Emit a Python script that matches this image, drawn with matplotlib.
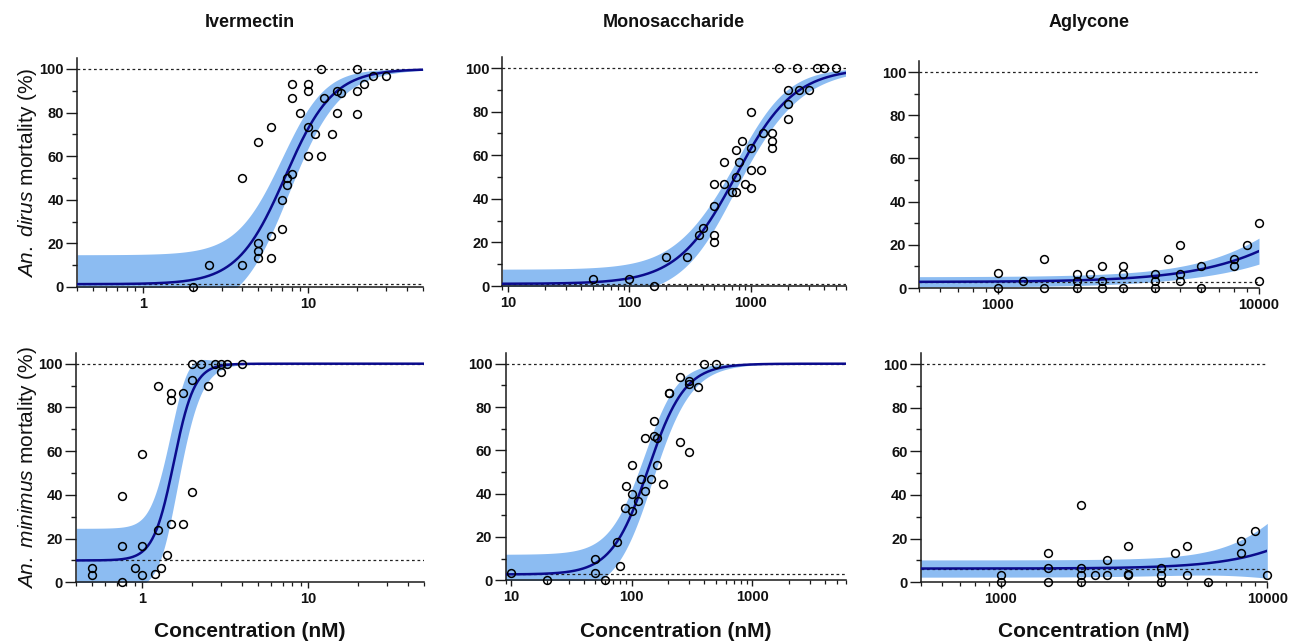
import numpy as np
import matplotlib
matplotlib.use("Agg")
import matplotlib.pyplot as plt
from matplotlib.ticker import FixedLocator, FixedFormatter, LogLocator, NullFormatter

plt.rcParams['font.family'] = ['Liberation Sans', 'DejaVu Sans']
plt.rcParams['mathtext.fontset'] = 'custom'
plt.rcParams['mathtext.it'] = 'Liberation Sans:italic'
plt.rcParams['mathtext.rm'] = 'Liberation Sans'

# ---------------- data (concentration nM, mortality %) ----------------
compounds = ['Ivermectin', 'Monosaccharide', 'Aglycone']
species = ['dirus', 'minimus']

iver_dirus_conc = [2, 2.5, 4, 4, 5, 5, 5, 5, 6, 6, 6, 7, 7, 7.5, 7.5, 8, 8, 8, 9,
                   10, 10, 10, 10, 11, 12, 12, 12.5, 14, 15, 15, 16, 20, 20, 20, 22, 25, 30]
iver_dirus_mort = [0, 10, 50, 10, 66.7, 20, 16.7, 13.3, 73.3, 23.3, 13.3, 40, 26.7, 50, 46.7,
                   93.3, 86.7, 51.7, 80, 93.3, 90, 73.3, 60, 70, 100, 60, 86.7, 70, 90, 80, 89,
                   100, 90, 79.5, 93.3, 96.7, 96.7]

mono_dirus_conc = [50, 100, 160, 200, 300, 375, 400, 500, 500, 500, 500, 600, 600, 700, 750,
                   750, 750, 800, 850, 900, 1000, 1000, 1000, 1000, 1200, 1250, 1500, 1500,
                   1500, 1700, 2000, 2000, 2000, 2400, 2500, 3000, 3500, 4000, 5000]
mono_dirus_mort = [3.3, 3.3, 0, 13.3, 13.3, 23.3, 26.7, 23.3, 20, 36.7, 46.7, 56.7, 46.7, 43.3,
                   43.3, 50, 62.5, 56.7, 66.7, 46.7, 80, 63.3, 53.3, 44.8, 53.3, 70, 70, 66.7,
                   63.3, 100, 90, 83.3, 76.7, 100, 90, 90, 100, 100, 100]

agly_dirus_conc = [1000, 1000, 1250, 1500, 1500, 2000, 2000, 2000, 2250, 2500, 2500, 2500,
                   3000, 3000, 3000, 4000, 4000, 4000, 4500, 5000, 5000, 5000, 6000, 6000,
                   8000, 8000, 9000, 10000, 10000]
agly_dirus_mort = [7, 0, 3.3, 13.3, 0, 6.7, 3.3, 0, 6.5, 10, 3.3, 0, 10, 6.5, 0, 6.7, 3.3, 0,
                   13.3, 20, 6.7, 3.3, 10, 0, 13.3, 10, 20, 30, 3.3]

iver_minimus_conc = [0.5, 0.5, 0.75, 0.75, 0.75, 0.9, 1, 1, 1, 1.2, 1.25, 1.25, 1.3, 1.4,
                     1.5, 1.5, 1.5, 1.75, 1.75, 2, 2, 2, 2.25, 2.5, 2.75, 3, 3, 3.25, 4]
iver_minimus_mort = [6.7, 3.3, 39.3, 16.7, 0, 6.7, 58.5, 16.7, 3.3, 4, 90, 24, 6.7, 12.5,
                     86.6, 83.2, 26.7, 86.6, 26.7, 100, 92.7, 41.3, 100, 90, 100, 100, 96.3,
                     100, 100]

mono_minimus_conc = [10, 20, 50, 50, 60, 75, 80, 88, 90, 100, 100, 100, 112, 120, 128, 128,
                     145, 154, 154, 163, 163, 180, 204, 204, 253, 253, 300, 300, 300, 357,
                     400, 500]
mono_minimus_mort = [3.4, 0, 10, 3.4, 0, 17.8, 6.8, 33.2, 43.4, 53.2, 40, 32, 36.6, 46.8,
                     65.5, 41.2, 46.8, 73.5, 66.8, 65.5, 53.2, 44.3, 86.3, 86.6, 93.7, 63.7,
                     92.2, 90.5, 59.1, 89.2, 100, 100]

agly_minimus_conc = [1000, 1000, 1500, 1500, 1500, 2000, 2000, 2000, 2000, 2250, 2500, 2500,
                     3000, 3000, 3000, 4000, 4000, 4000, 4500, 5000, 5000, 6000, 8000, 8000,
                     9000, 10000]
agly_minimus_mort = [3.4, 0, 13.4, 6.7, 0, 35.6, 6.7, 3.4, 0, 3.4, 10.1, 3.4, 16.8, 3.4, 4,
                     6.7, 3.4, 0, 13.4, 16.8, 3.4, 0, 18.8, 13.4, 23.4, 3.4]

# fitted dose-response parameters: [bottom %, EC50 nM, Hill slope]
# (top fixed at 100 %)
iver_dirus_fit = [1.3, 7.3, 3.0]
mono_dirus_fit = [1.0, 750, 1.8]
agly_dirus_fit = [2.8, 25000, 1.92]
iver_minimus_fit = [10.0, 1.55, 7.0]
mono_minimus_fit = [2.7, 137, 2.85]
agly_minimus_fit = [6.3, 26000, 2.46]

# 95% confidence-band half-widths of the fit parameters, read from the bands:
# bottom (%), log10 EC50, Hill slope
band_bottom = [13.5, 6.7, 2.4, 14.7, 9.3, 3.95]
band_logec50 = [0.055, 0.051, 0.105, 0.05, 0.064, 0.285]
band_hill = [0.5, 0.3, 0.0, 3.0, 0.5, 0.0]

# axis ranges and tick labels
iver_xlim = [0.4, 50]
mono_xlim = [9, 6000]
agly_xlim = [500, 10000]
iver_xticks = [1, 10]
mono_xticks = [10, 100, 1000]
agly_xticks = [1000, 10000]
y_major = [0, 20, 40, 60, 80, 100]
y_minor = [10, 30, 50, 70, 90]

panels = [
    (iver_dirus_conc, iver_dirus_mort, iver_dirus_fit, iver_xlim, iver_xticks),
    (mono_dirus_conc, mono_dirus_mort, mono_dirus_fit, mono_xlim, mono_xticks),
    (agly_dirus_conc, agly_dirus_mort, agly_dirus_fit, agly_xlim, agly_xticks),
    (iver_minimus_conc, iver_minimus_mort, iver_minimus_fit, iver_xlim, iver_xticks),
    (mono_minimus_conc, mono_minimus_mort, mono_minimus_fit, mono_xlim, mono_xticks),
    (agly_minimus_conc, agly_minimus_mort, agly_minimus_fit, agly_xlim, agly_xticks),
]

# ---------------- model ----------------
TOP = 100.0


def logistic(lx, b, L, h):
    return b + (TOP - b) / (1 + 10 ** ((L - lx) * h))


def jacobian(lx, b, L, h):
    u = 10 ** ((L - lx) * h)
    D = 1 + u
    common = -(TOP - b) * u * np.log(10) / D ** 2
    return np.column_stack([1 - 1 / D, common * h, common * (L - lx)])


def conf_band(fit, lxg, hw):
    """Delta-method confidence band from parameter half-widths."""
    b, ec50, h = fit
    L = np.log10(ec50)
    G = jacobian(lxg, b, L, h)
    half = np.sqrt(np.sum((G * np.asarray(hw)) ** 2, axis=1))
    yfit = logistic(lxg, b, L, h)
    return yfit, yfit - half, yfit + half


# ---------------- figure ----------------
W, H = 1290, 644
fig = plt.figure(figsize=(W / 100, H / 100), dpi=100)

# pixel layout: left, right, y(0%), y(100%)
layout = [
    (77.3, 423.0, 287.0, 69.0),
    (502.4, 845.5, 286.0, 68.0),
    (919.4, 1259.0, 288.0, 72.0),
    (76.2, 424.3, 582.3, 363.7),
    (505.5, 846.3, 580.3, 363.7),
    (920.8, 1267.3, 582.3, 364.0),
]

BAND = '#8cbcf2'
CURVE = '#0b0b8c'
INK = '#1a1a1a'

for i, ((conc, mort, fit, xlim, xticks), (lp, rp, y0, y100)) in enumerate(zip(panels, layout)):
    ppu = (y0 - y100) / 100.0
    top_px = y0 - 105 * ppu
    ax = fig.add_axes([lp / W, 1 - y0 / H, (rp - lp) / W, (y0 - top_px) / H])
    ax.set_xscale('log')
    ax.set_xlim(xlim)
    ax.set_ylim(0, 105)

    lxg = np.linspace(np.log10(xlim[0]), np.log10(xlim[1]), 500)
    xg = 10 ** lxg
    yfit, lo, hi = conf_band(fit, lxg, [band_bottom[i], band_logec50[i], band_hill[i]])
    ax.fill_between(xg, lo, hi, color=BAND, lw=0, zorder=1)
    ax.axhline(100, color='#222222', lw=0.9, ls=(0, (2.2, 2.2)), zorder=2)
    ax.axhline(fit[0], color='#222222', lw=0.9, ls=(0, (2.2, 2.2)), zorder=2)
    ax.plot(xg, yfit, color=CURVE, lw=1.8, zorder=3)
    ax.plot(conc, mort, 'o', ms=5.6, mfc='none', mec='black', mew=1.1,
            clip_on=False, zorder=4)

    for s in ('top', 'right'):
        ax.spines[s].set_visible(False)
    for s in ('left', 'bottom'):
        ax.spines[s].set_linewidth(1.1)
        ax.spines[s].set_color(INK)

    ax.yaxis.set_major_locator(FixedLocator(y_major))
    ax.yaxis.set_minor_locator(FixedLocator(y_minor))
    ax.yaxis.set_major_formatter(FixedFormatter([str(v) for v in y_major]))
    ax.xaxis.set_major_locator(FixedLocator(xticks))
    ax.xaxis.set_major_formatter(FixedFormatter([str(v) for v in xticks]))
    ax.xaxis.set_minor_locator(LogLocator(base=10, subs=np.arange(2, 10), numticks=20))
    ax.xaxis.set_minor_formatter(NullFormatter())

    ax.tick_params(axis='y', which='major', length=8, width=1.0, color=INK, pad=1.5,
                   labelsize=10.5)
    ax.tick_params(axis='y', which='minor', length=3.6, width=1.0, color=INK)
    ax.tick_params(axis='x', which='major', length=4.5, width=1.0, color=INK, pad=2.5,
                   labelsize=10.5)
    ax.tick_params(axis='x', which='minor', length=2.6, width=0.9, color=INK)
    for lab in ax.get_xticklabels() + ax.get_yticklabels():
        lab.set_fontweight('bold')
        lab.set_color('#111111')

# titles
for j, name in enumerate(compounds):
    lp, rp, _, _ = layout[j]
    fig.text((lp + rp) / 2 / W, 1 - 27 / H, name, ha='center', va='baseline',
             fontsize=13, fontweight='bold', color='#111111')

# x labels (bottom row)
for j in range(3):
    lp, rp, _, _ = layout[3 + j]
    fig.text((lp + rp) / 2 / W, 1 - 637 / H, 'Concentration (nM)', ha='center',
             va='baseline', fontsize=15, fontweight='bold', color='#111111')

# y labels
for r, sp in enumerate(species):
    lp, rp, y0, y100 = layout[3 * r]
    ppu = (y0 - y100) / 100.0
    yc = (y0 + (y0 - 105 * ppu)) / 2
    fig.text(28 / W, 1 - yc / H, r'$\mathit{An.\ ' + sp + r'}$ mortality (%)',
             rotation=90, ha='center', va='center', fontsize=15, color='#111111')

fig.savefig('out.png', dpi=100, facecolor='white')
